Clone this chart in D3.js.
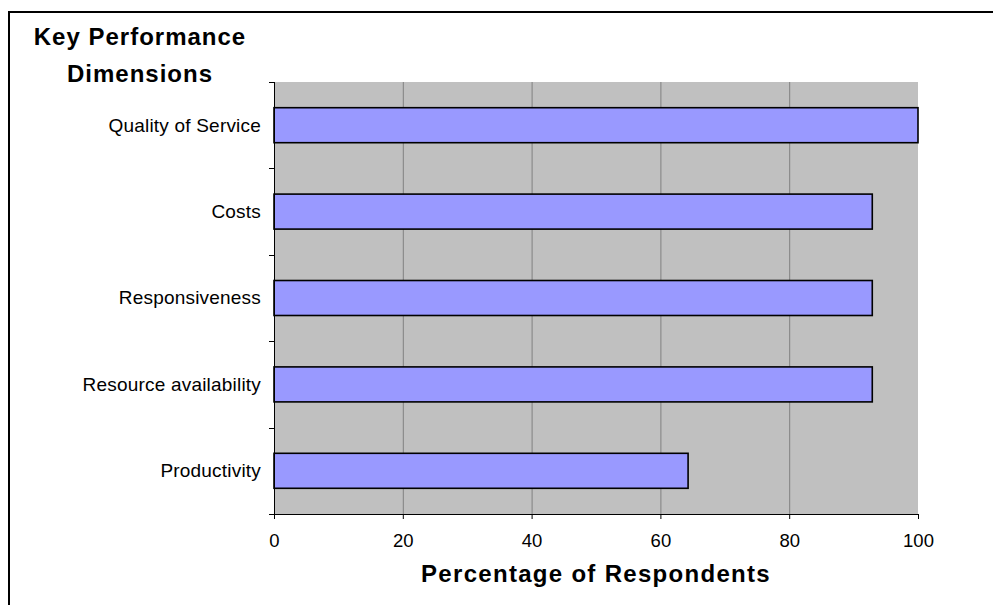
<!DOCTYPE html>
<html>
<head>
<meta charset="utf-8">
<script src="https://cdn.jsdelivr.net/npm/d3@7"></script>
<style>
  html, body { margin: 0; padding: 0; background: #fff; }
  svg { display: block; font-family: Arial, "Liberation Sans", sans-serif; }
</style>
</head>
<body>
<svg id="chart" width="993" height="605"></svg>
<script>
// Survey results: share of respondents naming each key performance dimension
const categories = ["Quality of Service", "Costs", "Responsiveness", "Resource availability", "Productivity"];
const values = [100, 92.9, 92.9, 92.9, 64.3];
const xTicks = [0, 20, 40, 60, 80, 100];
const titleLines = ["Key Performance", "Dimensions"];
const xAxisTitle = "Percentage of Respondents";

const svg = d3.select("#chart");
const W = 993, H = 605;
const plot = { left: 274, right: 918, top: 82, bottom: 514 };

// Chart-area frame
svg.append("rect")
  .attr("x", 9).attr("y", 12)
  .attr("width", W + 20).attr("height", H + 20)
  .attr("fill", "#fff").attr("stroke", "#000").attr("stroke-width", 2);

const x = d3.scaleLinear().domain([0, 100]).range([plot.left, plot.right]);
const y = d3.scaleBand().domain(categories)
  .range([plot.top, plot.bottom])
  .paddingInner(0.595).paddingOuter(0.2975);

// Plot area background
svg.append("rect")
  .attr("x", plot.left).attr("y", plot.top)
  .attr("width", plot.right - plot.left).attr("height", plot.bottom - plot.top)
  .attr("fill", "#C0C0C0");

// Vertical gridlines
svg.append("g").selectAll("line")
  .data(xTicks.filter(d => d > 0 && d < 100))
  .join("line")
  .attr("x1", d => x(d) + 0.5).attr("x2", d => x(d) + 0.5)
  .attr("y1", plot.top).attr("y2", plot.bottom)
  .attr("stroke", "#808080").attr("stroke-width", 1);

// Bars
svg.append("g").selectAll("rect")
  .data(categories)
  .join("rect")
  .attr("x", x(0))
  .attr("y", d => y(d))
  .attr("width", (d, i) => x(values[i]) - x(0))
  .attr("height", y.bandwidth())
  .attr("fill", "#9999FF")
  .attr("stroke", "#000")
  .attr("stroke-width", 1.6);

// X axis
const xAxis = svg.append("g")
  .attr("transform", `translate(0,${plot.bottom})`)
  .call(d3.axisBottom(x).tickValues(xTicks).tickSize(5).tickSizeOuter(0).tickPadding(15));
xAxis.select(".domain").attr("stroke", "#000");
xAxis.selectAll(".tick line").attr("stroke", "#000");
xAxis.selectAll(".tick text")
  .attr("font-size", 18.5).attr("fill", "#000")
  .attr("font-family", "Arial, 'Liberation Sans', sans-serif");

// Y axis: line with tick marks at category boundaries
const yAxis = svg.append("g");
yAxis.append("line")
  .attr("x1", plot.left + 0.5).attr("x2", plot.left + 0.5)
  .attr("y1", plot.top).attr("y2", plot.bottom)
  .attr("stroke", "#000");
const step = y.step();
yAxis.selectAll("line.tk")
  .data(d3.range(categories.length + 1))
  .join("line").attr("class", "tk")
  .attr("x1", plot.left - 5).attr("x2", plot.left)
  .attr("y1", i => Math.round(plot.top + i * step) + 0.5)
  .attr("y2", i => Math.round(plot.top + i * step) + 0.5)
  .attr("stroke", "#000");
yAxis.selectAll("text")
  .data(categories)
  .join("text")
  .attr("x", plot.left - 13)
  .attr("y", d => y(d) + y.bandwidth() / 2)
  .attr("dy", "0.34em")
  .attr("text-anchor", "end")
  .attr("font-size", 19)
  .attr("letter-spacing", 0.2)
  .text(d => d);

// Titles
svg.append("g").selectAll("text")
  .data(titleLines)
  .join("text")
  .attr("x", 140)
  .attr("y", (d, i) => 45 + i * 36.5)
  .attr("text-anchor", "middle")
  .attr("font-size", 24).attr("font-weight", "bold")
  .attr("letter-spacing", 1)
  .text(d => d);

svg.append("text")
  .attr("x", (plot.left + plot.right) / 2)
  .attr("y", 582)
  .attr("text-anchor", "middle")
  .attr("font-size", 24).attr("font-weight", "bold")
  .attr("letter-spacing", 1.3)
  .text(xAxisTitle);
</script>
</body>
</html>
